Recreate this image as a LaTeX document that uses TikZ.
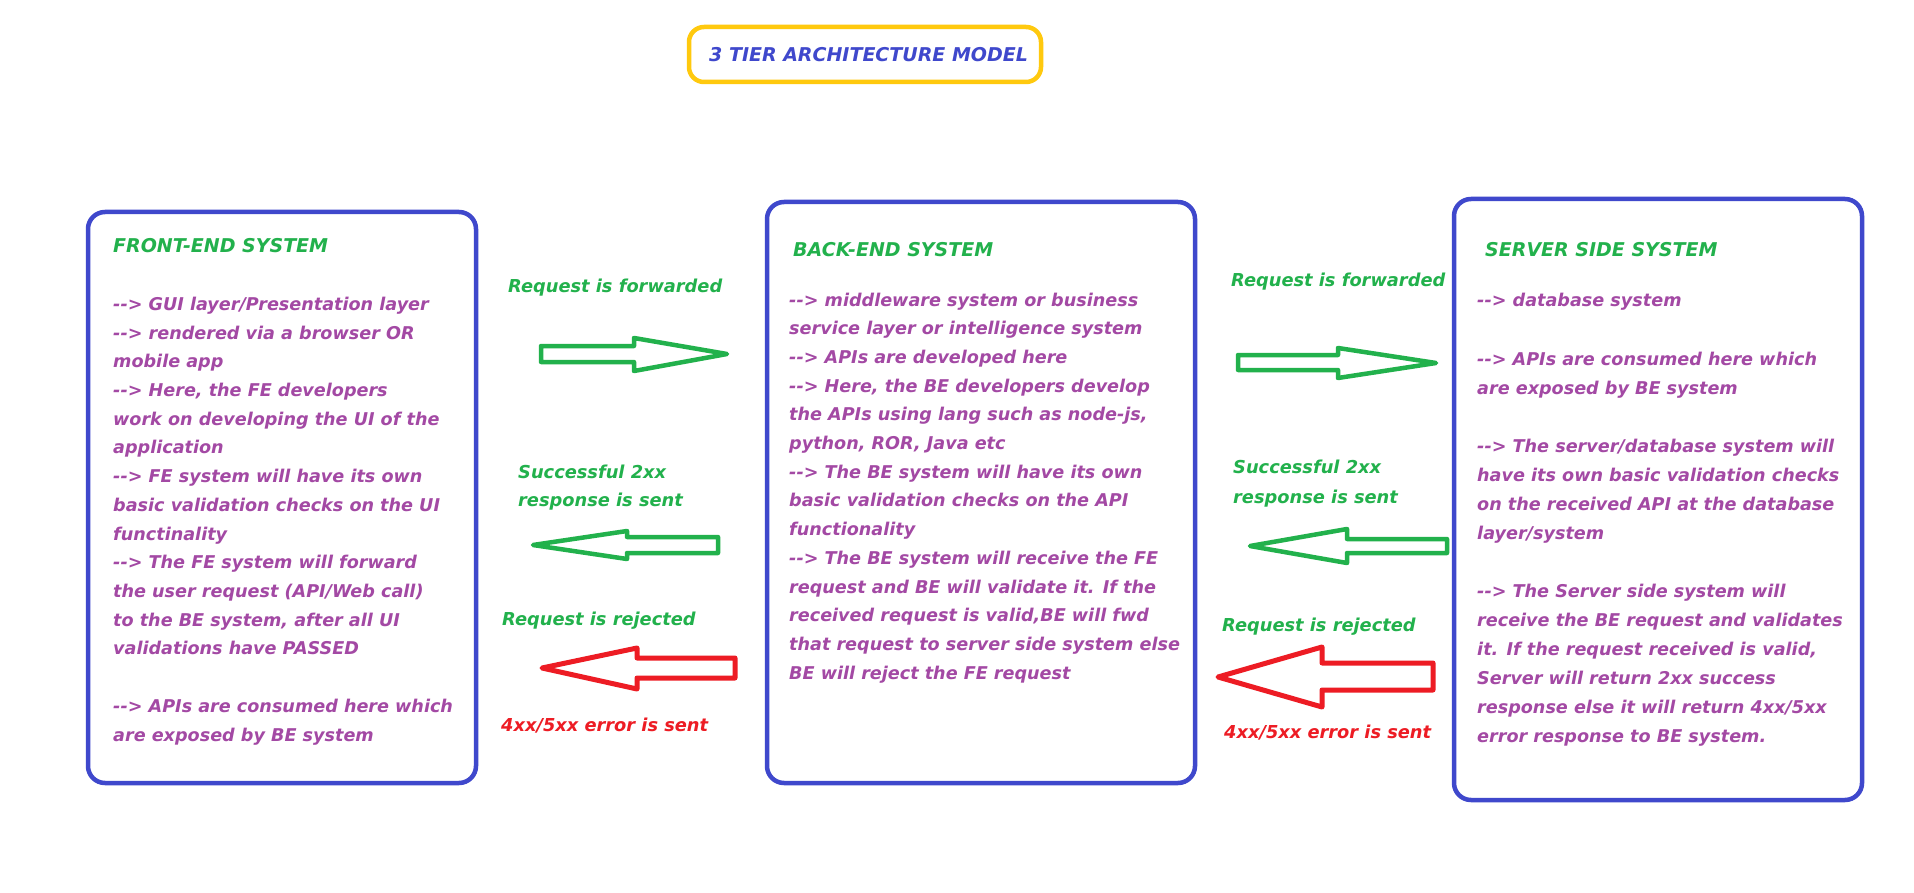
\documentclass[tikz,border=0pt]{standalone}
\usepackage{fontspec}
\setmainfont{DejaVu Sans}[Ligatures=TeXOff]
\definecolor{pbl}{HTML}{3F48CC}
\definecolor{ppl}{HTML}{A349A4}
\definecolor{pgr}{HTML}{22B14C}
\definecolor{prd}{HTML}{ED1C24}
\definecolor{pyl}{HTML}{FFC90E}
\begin{document}
\begin{tikzpicture}[x=1pt,y=-1pt,
  box/.style={draw=pbl, line width=4.5pt, rounded corners=17pt, inner sep=0pt, outer sep=0pt, anchor=north west},
  tbox/.style={draw=pyl, line width=4.5pt, rounded corners=15pt, inner sep=0pt, outer sep=0pt, anchor=north west},
  txt/.style={anchor=base west, inner sep=0pt, font=\fontsize{17.6}{22}\selectfont\bfseries\itshape},
  body/.style={txt, text=ppl},
  hdr/.style={txt, text=pgr, font=\fontsize{19}{22}\selectfont\bfseries\itshape},
  glab/.style={txt, text=pgr, font=\fontsize{17.8}{22}\selectfont\bfseries\itshape},
  rlab/.style={txt, text=prd, font=\fontsize{17.8}{22}\selectfont\bfseries\itshape},
  garrow/.style={draw=pgr, line width=4.5pt, line join=round},
  rarrow/.style={draw=prd, line width=5pt, line join=round}]
\useasboundingbox (0,0) rectangle (1914,893);
\fill[white] (0,0) rectangle (1914,893);

% title
\node[tbox, minimum width=352pt, minimum height=55pt] (titlebox) at (689,27) {};
\node[txt, text=pbl, font=\fontsize{19}{22}\selectfont\bfseries\itshape] (title) at (709,62) {3 TIER ARCHITECTURE MODEL};

% boxes
\node[box, minimum width=388pt, minimum height=571pt] (fe) at (88,212) {};
\node[box, minimum width=428pt, minimum height=581pt] (be) at (767,202) {};
\node[box, minimum width=408pt, minimum height=601pt] (ss) at (1454,199) {};

% front-end text
\node[hdr] (feh) at (113,253) {FRONT-END SYSTEM};
\foreach \t [count=\i from 0] in {
  {--> GUI layer/Presentation layer},
  {--> rendered via a browser OR},
  {mobile app},
  {--> Here, the FE developers},
  {work on developing the UI of the},
  {application},
  {--> FE system will have its own},
  {basic validation checks on the UI},
  {functinality},
  {--> The FE system will forward},
  {the user request (API/Web call)},
  {to the BE system, after all UI},
  {validations have PASSED}}
  \node[body] (fea\i) at (113,310.4+\i*28.7) {\t};
\node[body] (feb0) at (113,712) {--> APIs are consumed here which};
\node[body] (feb1) at (113,741) {are exposed by BE system};

% back-end text
\node[hdr] (beh) at (793,257) {BACK-END SYSTEM};
\foreach \t [count=\i from 0] in {
  {--> middleware system or business},
  {service layer or intelligence system},
  {--> APIs are developed here},
  {--> Here, the BE developers develop},
  {the APIs using lang such as node-js,},
  {python, ROR, Java etc},
  {--> The BE system will have its own},
  {basic validation checks on the API},
  {functionality},
  {--> The BE system will receive the FE},
  {request and BE will validate it. If the},
  {received request is valid,BE will fwd},
  {that request to server side system else},
  {BE will reject the FE request}}
  \node[body] (bea\i) at (789,306+\i*28.7) {\t};

% server side text
\node[hdr] (ssh) at (1485,257) {SERVER SIDE SYSTEM};
\node[body] (ssa0) at (1477,307) {--> database system};
\node[body] (ssa1) at (1477,365) {--> APIs are consumed here which};
\node[body] (ssa2) at (1477,394) {are exposed by BE system};
\node[body] (ssa3) at (1477,452) {--> The server/database system will};
\node[body] (ssa4) at (1477,481) {have its own basic validation checks};
\node[body] (ssa5) at (1477,510) {on the received API at the database};
\node[body] (ssa6) at (1477,539) {layer/system};
\node[body] (ssa7) at (1477,597) {--> The Server side system will};
\node[body] (ssa8) at (1477,626) {receive the BE request and validates};
\node[body] (ssa9) at (1477,655) {it. If the request received is valid,};
\node[body] (ssa10) at (1477,684) {Server will return 2xx success};
\node[body] (ssa11) at (1477,713) {response else it will return 4xx/5xx};
\node[body] (ssa12) at (1477,742) {error response to BE system.};

% left arrow labels
\node[glab] (l1) at (508,293) {Request is forwarded};
\node[glab] (l2a) at (518,478) {Successful 2xx};
\node[glab] (l2b) at (518,506) {response is sent};
\node[glab] (l3) at (502,625) {Request is rejected};
\node[rlab] (l4) at (501,731) {4xx/5xx error is sent};

% right arrow labels
\node[glab] (r1) at (1231,287) {Request is forwarded};
\node[glab] (r2a) at (1233,473) {Successful 2xx};
\node[glab] (r2b) at (1233,503) {response is sent};
\node[glab] (r3) at (1222,631) {Request is rejected};
\node[rlab] (r4) at (1224,738) {4xx/5xx error is sent};

% block arrows between FE and BE
\draw[garrow] (541,346) -- (634,346) -- (634,338) -- (727,354) -- (634,371) -- (634,362) -- (541,362) -- cycle;
\draw[garrow] (718,537) -- (627,537) -- (627,531) -- (533,545) -- (627,559) -- (627,553) -- (718,553) -- cycle;
\draw[rarrow] (735,658) -- (637,658) -- (637,648) -- (542,668) -- (637,689) -- (637,678) -- (735,678) -- cycle;

% block arrows between BE and server side
\draw[garrow] (1238,355) -- (1338,355) -- (1338,348) -- (1436,363) -- (1338,378) -- (1338,370) -- (1238,370) -- cycle;
\draw[garrow] (1447,539) -- (1347,539) -- (1347,529) -- (1250,546) -- (1347,563) -- (1347,553) -- (1447,553) -- cycle;
\draw[rarrow] (1433,663) -- (1322,663) -- (1322,647) -- (1218,677) -- (1322,707) -- (1322,690) -- (1433,690) -- cycle;
\end{tikzpicture}
\end{document}
